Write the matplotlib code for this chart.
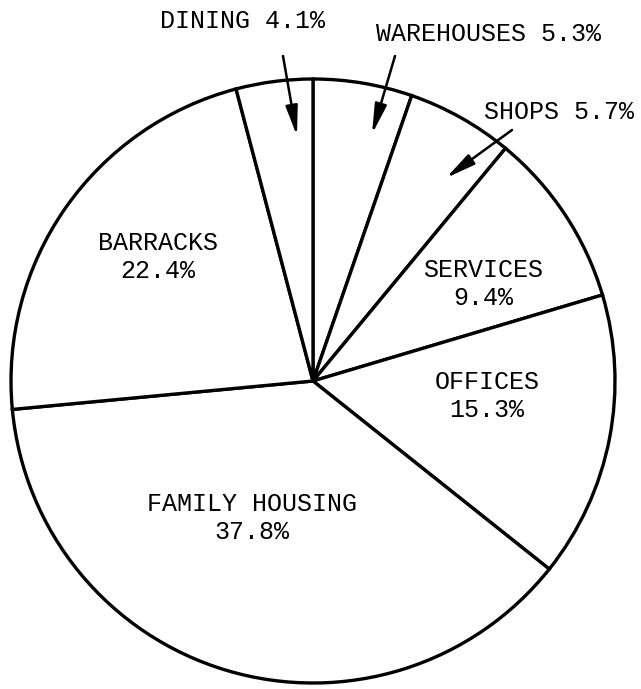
import matplotlib
matplotlib.use('Agg')
import matplotlib.pyplot as plt

# slices, clockwise from 12 o'clock
categories = ['WAREHOUSES', 'SHOPS', 'SERVICES', 'OFFICES',
              'FAMILY HOUSING', 'BARRACKS', 'DINING']
percent = [5.3, 5.7, 9.4, 15.3, 37.8, 22.4, 4.1]

W, H = 641, 689
FONT = 'Liberation Mono'
FS = 18


def px(x, y):
    # picture pixel coords -> data coords (y up)
    return x, H - y


fig = plt.figure(figsize=(W / 100, H / 100), dpi=100)
ax = fig.add_axes([0, 0, 1, 1])

ax.pie(percent, startangle=90, counterclock=False,
       center=px(313, 381), radius=302, frame=True,
       colors=['white'] * len(percent),
       wedgeprops=dict(edgecolor='black', linewidth=2.4))
ax.set_xlim(0, W)
ax.set_ylim(0, H)
ax.set_aspect('equal')
ax.axis('off')

lab = {c: '{}\n{:.1f}%'.format(c, p) for c, p in zip(categories, percent)}
inside = {
    'BARRACKS': (158, 257),
    'SERVICES': (483, 284),
    'OFFICES': (487, 396),
    'FAMILY HOUSING': (252, 518),
}
for c, (x, y) in inside.items():
    ax.text(*px(x, y), lab[c], ha='center', va='center', fontsize=FS,
            family=FONT, linespacing=1.2)

# small slices: label outside with an arrow
outside = {
    'DINING': ((242, 21), (283, 56), (297, 136)),
    'WAREHOUSES': ((489, 34), (395, 56), (372, 134)),
    'SHOPS': ((559, 112), (512, 130), (446, 178)),
}
for c, (txt, tail, tip) in outside.items():
    ax.text(*px(*txt), lab[c].replace('\n', ' '), ha='center', va='center',
            fontsize=FS, family=FONT)
    ax.annotate('', xy=px(*tip), xytext=px(*tail),
                arrowprops=dict(arrowstyle='-|>,head_length=0.9,head_width=0.18',
                                color='black', lw=1.8, mutation_scale=20,
                                shrinkA=0, shrinkB=0))

fig.savefig('out.png', dpi=100, facecolor='white')
